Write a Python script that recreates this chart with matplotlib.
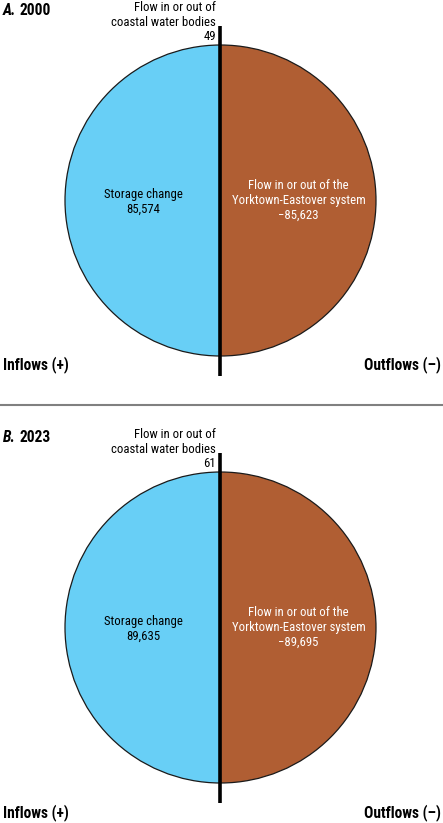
import matplotlib
matplotlib.use("Agg")
import matplotlib.pyplot as plt

panels = ["A. 2000", "B. 2023"]
storage_change = [85574, 89635]
coastal_flow = [49, 61]
yorktown_flow = [-85623, -89695]

FONT = ['Roboto Condensed', 'Archivo Narrow', 'Fira Sans Condensed', 'DejaVu Sans']
plt.rcParams['font.family'] = FONT

W, H = 443, 823
fig = plt.figure(figsize=(W / 100, H / 100), dpi=100)
ax = fig.add_axes([0, 0, 1, 1])

blue = '#68CFF6'
brown = '#B05E33'

def Y(y):
    return H - y

offsets = [0, 427]
inflow_y = [365, 813]
cx, cy0, r = 220.5, 200.5, 155.5
fs = 9.2
fsb = 11.2

for i in range(2):
    o = offsets[i]
    cy = cy0 + o
    vals = [coastal_flow[i], storage_change[i], abs(yorktown_flow[i])]
    ax.pie(vals, colors=['#2E8BC0', blue, brown], startangle=90, counterclock=True,
           center=(cx, Y(cy)), radius=r,
           wedgeprops=dict(edgecolor='#1a1a1a', linewidth=0.9), frame=True)
    ax.plot([220.5, 220.5], [Y(26 + o), Y(376 + o)], color='black', lw=2.6, solid_capstyle='butt')
    lbl, yr = panels[i].split(' ')
    ax.text(3, Y(10.5 + o), lbl, fontsize=fsb, fontweight='bold', style='italic', va='center', ha='left')
    ax.text(19.5, Y(10.5 + o), yr, fontsize=fsb, fontweight='bold', va='center', ha='left')
    ax.text(216, Y(7.5 + o), "Flow in or out of", fontsize=fs, ha='right', va='center')
    ax.text(216, Y(22 + o), "coastal water bodies", fontsize=fs, ha='right', va='center')
    ax.text(216, Y(36.5 + o), f"{coastal_flow[i]}", fontsize=fs, ha='right', va='center')
    ax.text(143.5, Y(194 + o), "Storage change", fontsize=fs, ha='center', va='center')
    ax.text(143.5, Y(209 + o), f"{storage_change[i]:,}", fontsize=fs, ha='center', va='center')
    ax.text(298.5, Y(185 + o), "Flow in or out of the", fontsize=fs, ha='center', va='center', color='white')
    ax.text(298.5, Y(200 + o), "Yorktown-Eastover system", fontsize=fs, ha='center', va='center', color='white')
    ax.text(298.5, Y(215 + o), f"\u2212{abs(yorktown_flow[i]):,}", fontsize=fs, ha='center', va='center', color='white')
    ax.text(3, Y(inflow_y[i]), "Inflows (+)", fontsize=fsb, fontweight='bold', ha='left', va='center')
    ax.text(441, Y(inflow_y[i]), "Outflows (\u2013)", fontsize=fsb, fontweight='bold', ha='right', va='center')

ax.plot([0, W], [Y(404.5), Y(404.5)], color='#808080', lw=1.5)
ax.set_xlim(0, W)
ax.set_ylim(0, H)
ax.set_aspect('auto')
ax.axis('off')

fig.savefig('out.png', dpi=100)
